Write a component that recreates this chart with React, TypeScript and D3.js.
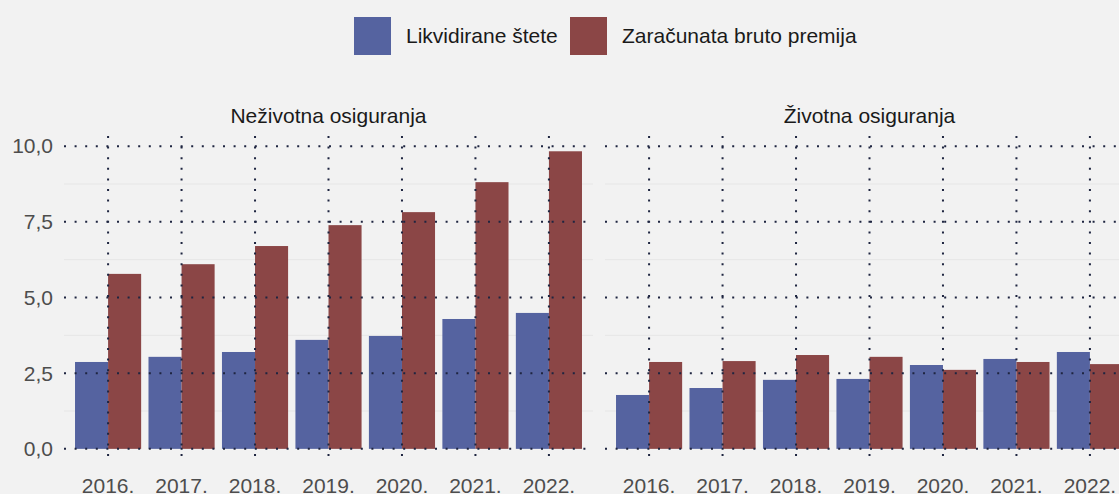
import React from "react";
import * as d3 from "d3";

const years = ["2016.", "2017.", "2018.", "2019.", "2020.", "2021.", "2022."];
const seriesNames = ["Likvidirane štete", "Zaračunata bruto premija"];
const panels = ["Neživotna osiguranja", "Životna osiguranja"];
const nonLifeClaims = [2.87, 3.04, 3.2, 3.6, 3.73, 4.29, 4.49];
const nonLifePremium = [5.78, 6.1, 6.7, 7.39, 7.82, 8.81, 9.83];
const lifeClaims = [1.78, 2.01, 2.28, 2.31, 2.77, 2.97, 3.2];
const lifePremium = [2.87, 2.9, 3.1, 3.04, 2.61, 2.87, 2.8];
const yTicks = [0, 2.5, 5, 7.5, 10];
const yMinor = [1.25, 3.75, 6.25, 8.75];

const colors = ["#5563A0", "#8B4646"];
const panelData = [
  [nonLifeClaims, nonLifePremium],
  [lifeClaims, lifePremium],
];

const W = 1119;
const H = 494;
const panelX = [64, 605];
const panelW = 529;
const panelTop = 131;
const panelBottom = 464;
const font = "'Liberation Sans', Arial, sans-serif";
const gridColor = "#1e2540";
const dash = "2 8.6";

export default function App() {
  const y = d3.scaleLinear().domain([-0.5, 10.5]).range([panelBottom, panelTop]);
  const fmt = (v: number) => d3.format(".1f")(v).replace(".", ",");

  return (
    <svg
      width={W}
      height={H}
      style={{ position: "absolute", left: 0, top: 0, background: "#F2F2F2" }}
    >
      <rect x={0} y={0} width={W} height={H} fill="#F2F2F2" />
      {seriesNames.map((name, i) => {
        const lx = [354, 570][i];
        return (
          <g key={name}>
            <rect x={lx} y={17} width={37} height={38} fill={colors[i]} />
            <text
              x={lx + 52}
              y={36}
              dy="0.35em"
              fontFamily={font}
              fontSize={21}
              fill="#1a1a1a"
            >
              {name}
            </text>
          </g>
        );
      })}
      {panels.map((title, p) => {
        const x0 = panelX[p];
        const x = d3
          .scaleBand<string>()
          .domain(years)
          .range([x0, x0 + panelW])
          .paddingInner(0)
          .paddingOuter(0.1);
        const step = x.step();
        const cx = (i: number) => (x(years[i]) as number) + step / 2;
        const bw = step * 0.45;
        return (
          <g key={title}>
            <text
              x={x0 + panelW / 2}
              y={123}
              fontFamily={font}
              textAnchor="middle"
              fontSize={21}
              fill="#1a1a1a"
            >
              {title}
            </text>
            {yMinor.map((v) => (
              <line
                key={v}
                x1={x0}
                x2={x0 + panelW}
                y1={y(v)}
                y2={y(v)}
                stroke="#E6E6E6"
                strokeWidth={1}
              />
            ))}
            {panelData[p].map((vals, s) =>
              vals.map((v, i) => (
                <rect
                  key={`${s}-${i}`}
                  x={s === 0 ? cx(i) - bw : cx(i)}
                  y={y(v)}
                  width={bw}
                  height={y(0) - y(v)}
                  fill={colors[s]}
                />
              ))
            )}
            {yTicks.map((v) => (
              <line
                key={v}
                x1={x0}
                x2={x0 + panelW}
                y1={y(v)}
                y2={y(v)}
                stroke={gridColor}
                strokeWidth={2}
                strokeDasharray={dash}
              />
            ))}
            {years.map((yr, i) => (
              <line
                key={yr}
                x1={cx(i)}
                x2={cx(i)}
                y1={panelTop + 5}
                y2={panelBottom}
                stroke={gridColor}
                strokeWidth={2}
                strokeDasharray={dash}
              />
            ))}
            {years.map((yr, i) => (
              <text
                key={yr}
                x={cx(i)}
                y={493}
                textAnchor="middle"
                fontFamily={font}
                fontSize={21}
                fill="#4D4D4D"
              >
                {yr}
              </text>
            ))}
            {p === 0 &&
              yTicks.map((v) => (
                <text
                  key={v}
                  x={53}
                  y={y(v)}
                  dy="0.35em"
                  textAnchor="end"
                  fontFamily={font}
                  fontSize={21}
                  fill="#4D4D4D"
                >
                  {fmt(v)}
                </text>
              ))}
          </g>
        );
      })}
    </svg>
  );
}
